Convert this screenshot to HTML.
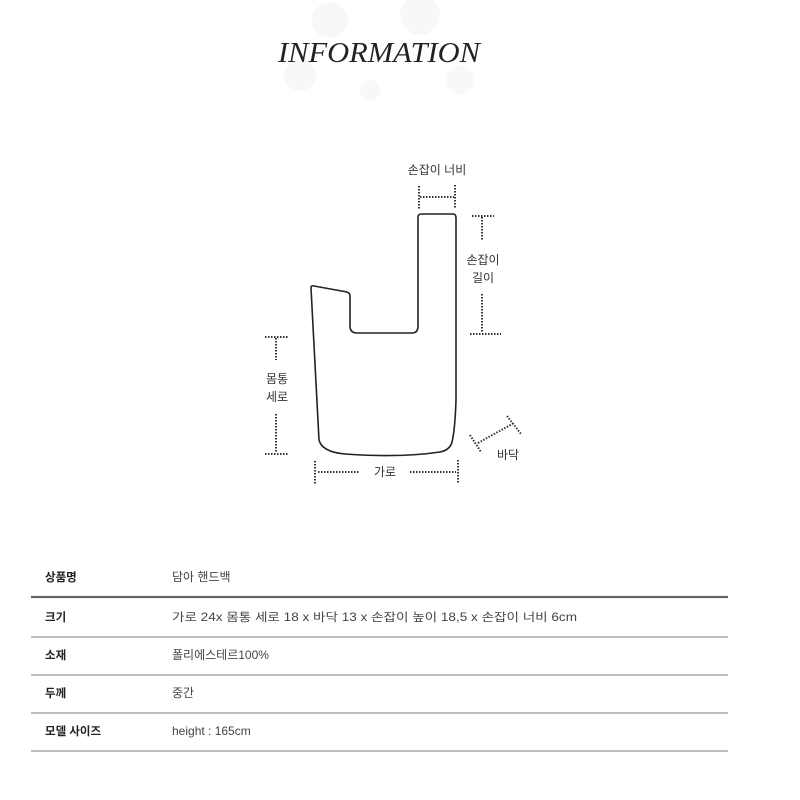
<!DOCTYPE html>
<html><head><meta charset="utf-8"><style>
body{margin:0;background:#fff;}
svg{display:block;}
text{font-family:"Liberation Sans","Noto Sans CJK KR",sans-serif;}
</style></head><body>
<svg width="800" height="800" viewBox="0 0 800 800" xmlns="http://www.w3.org/2000/svg">
<rect width="800" height="800" fill="#fff"/>
<g fill="#f8f8f7">
<circle cx="330" cy="20" r="18"/><circle cx="420" cy="15" r="20"/><circle cx="300" cy="75" r="16"/>
<circle cx="460" cy="80" r="14"/><circle cx="370" cy="90" r="10"/>
</g>
<text x="379" y="62" text-anchor="middle" font-style="italic" font-size="28" fill="#222" textLength="202" lengthAdjust="spacingAndGlyphs" style="font-family:'Liberation Serif',serif">INFORMATION</text>

<path d="M418 217 Q418 214 422 214 L453 214 Q456 214 456 218 L456 400 Q455 430 452 442 Q450 450 440 452 Q400 458 345 454 Q322 452 319 440 L311 288 Q311 285 314 286 L347 292 Q350 293 350 296 L350 326 Q350 333 357 333 L412 333 Q418 333 418 326 Z" fill="none" stroke="#222" stroke-width="1.6"/>

<g stroke="#333" stroke-width="2" stroke-dasharray="1.5 1.5" fill="none">
<line x1="419" y1="186" x2="419" y2="209"/><line x1="455" y1="185" x2="455" y2="209"/>
<line x1="420" y1="197" x2="454" y2="197"/>
<line x1="472" y1="216" x2="494" y2="216"/><line x1="482" y1="217" x2="482" y2="241"/>
<line x1="482" y1="294" x2="482" y2="333"/><line x1="470" y1="334" x2="501" y2="334"/>
<line x1="265" y1="337" x2="288" y2="337"/><line x1="276" y1="338" x2="276" y2="360"/>
<line x1="276" y1="414" x2="276" y2="453"/><line x1="265" y1="454" x2="288" y2="454"/>
<line x1="315" y1="461" x2="315" y2="484"/><line x1="458" y1="460" x2="458" y2="484"/>
<line x1="318" y1="472" x2="360" y2="472"/><line x1="410" y1="472" x2="456" y2="472"/>
<line x1="478" y1="443" x2="514" y2="423"/>
<line x1="470" y1="435" x2="481" y2="452"/><line x1="507" y1="416" x2="521" y2="434"/>
</g>
<g font-size="12" fill="#333" text-anchor="middle">
<text x="437" y="174">손잡이 너비</text>
<text x="483" y="264">손잡이</text><text x="483" y="282">길이</text>
<text x="277" y="383">몸통</text><text x="277" y="401">세로</text>
<text x="385" y="476">가로</text>
<text x="508" y="459">바닥</text>
</g>

<line x1="31" y1="597" x2="728" y2="597" stroke="#666" stroke-width="2.2"/>
<g stroke="#aaa" stroke-width="1.5">
<line x1="31" y1="637" x2="728" y2="637"/><line x1="31" y1="675" x2="728" y2="675"/>
<line x1="31" y1="713" x2="728" y2="713"/><line x1="31" y1="751" x2="728" y2="751"/>
</g>
<g font-size="11.5" font-weight="bold" fill="#222">
<text x="45" y="581">상품명</text><text x="45" y="621">크기</text><text x="45" y="659">소재</text>
<text x="45" y="697">두께</text><text x="45" y="735">모델 사이즈</text>
</g>
<g font-size="12" fill="#444">
<text x="172" y="581">담아 핸드백</text>
<text x="172" y="621" font-size="11.5" textLength="405" lengthAdjust="spacingAndGlyphs">가로 24x 몸통 세로 18 x 바닥 13 x 손잡이 높이 18,5 x 손잡이 너비 6cm</text>
<text x="172" y="659">폴리에스테르100%</text>
<text x="172" y="697">중간</text>
<text x="172" y="735">height : 165cm</text>
</g>
</svg>
</body></html>
